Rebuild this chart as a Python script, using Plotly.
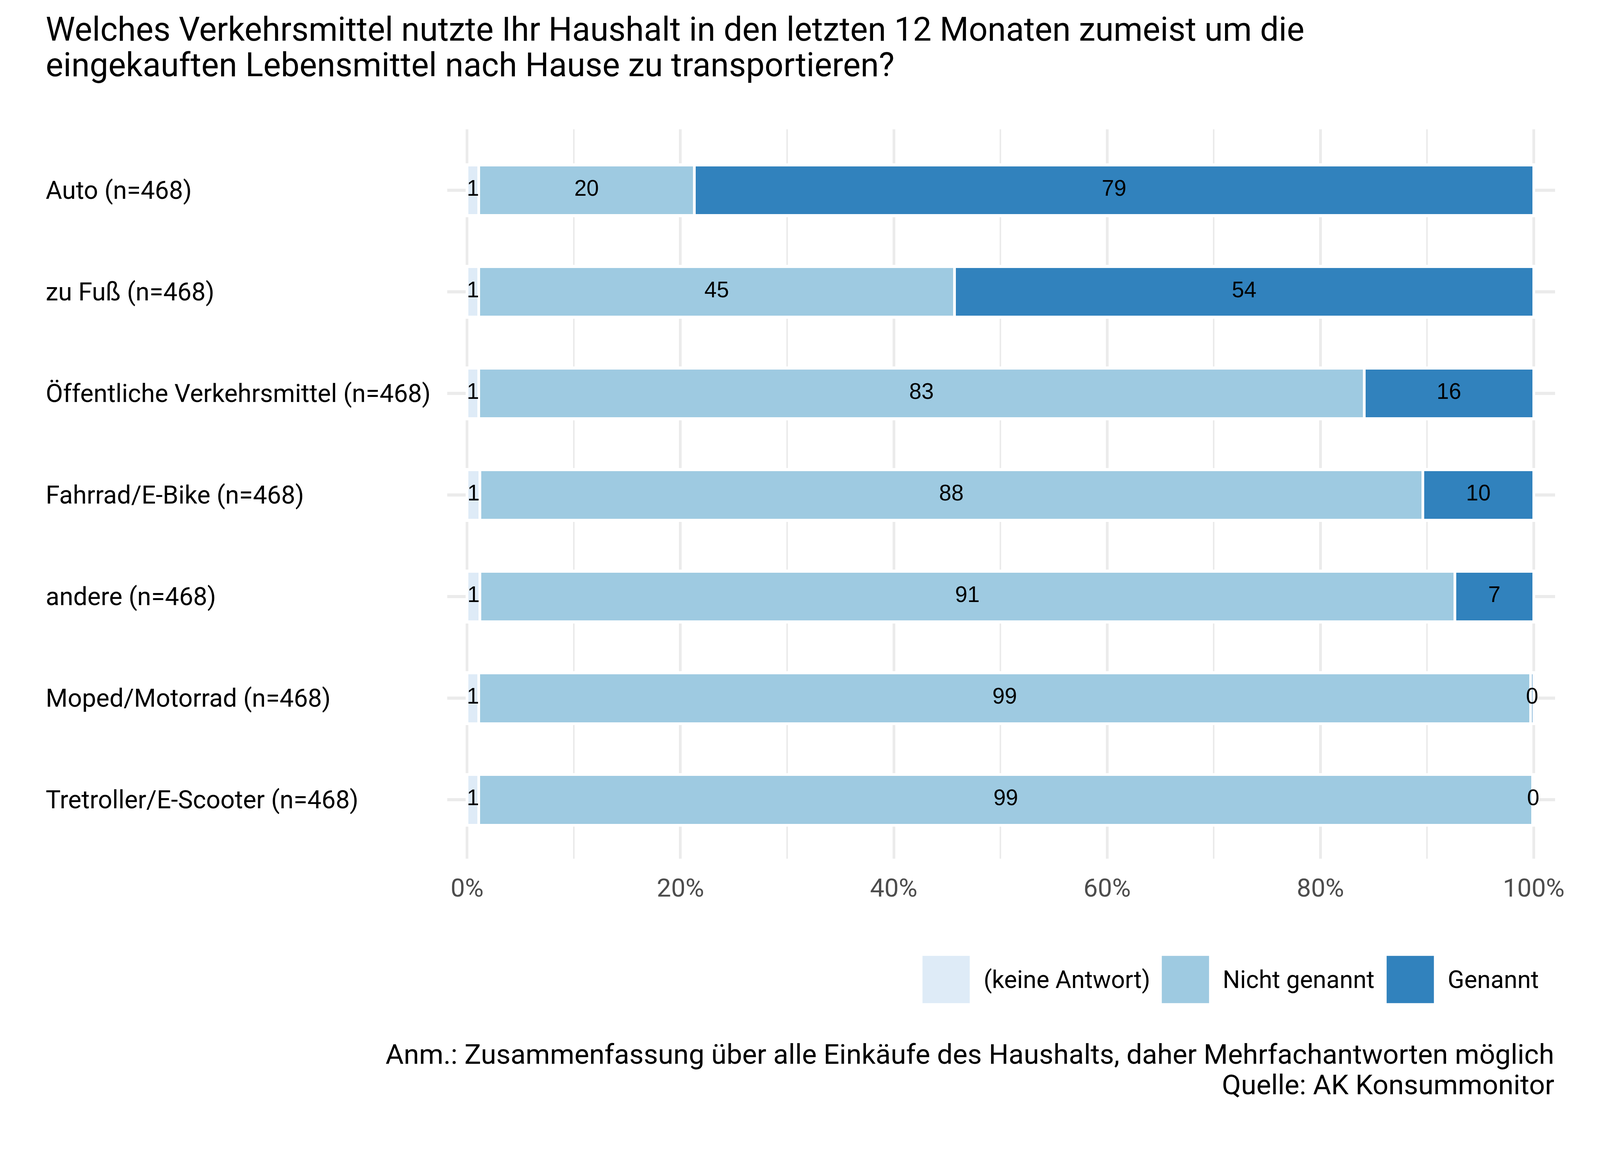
import numpy as np
import plotly.graph_objects as go

# data (percent of households, n=468 each)
categories = [
    "Auto (n=468)",
    "zu Fuß (n=468)",
    "Öffentliche Verkehrsmittel (n=468)",
    "Fahrrad/E-Bike (n=468)",
    "andere (n=468)",
    "Moped/Motorrad (n=468)",
    "Tretroller/E-Scooter (n=468)",
]
keine_antwort = [1.1, 1.1, 1.1, 1.2, 1.2, 1.1, 1.1]
nicht_genannt = [20.2, 44.6, 83.0, 88.4, 91.4, 98.6, 98.8]
genannt = [78.7, 54.3, 15.9, 10.4, 7.4, 0.3, 0.1]

series_names = ["(keine Antwort)", "Nicht genannt", "Genannt"]
series_colors = ["#DEEBF7", "#9ECAE1", "#3182BD"]
x_ticks = [0, 20, 40, 60, 80, 100]
x_ticktext = ["0%", "20%", "40%", "60%", "80%", "100%"]

title_lines = [
    "Welches Verkehrsmittel nutzte Ihr Haushalt in den letzten 12 Monaten zumeist um die",
    "eingekauften Lebensmittel nach Hause zu transportieren?",
]
caption_lines = [
    "Anm.: Zusammenfassung über alle Einkäufe des Haushalts, daher Mehrfachantworten möglich",
    "Quelle: AK Konsummonitor",
]

# the screenshot comes out ~2.5% larger than the page and the page has an 8px body margin,
# so layout pixels are given in screenshot units and converted here
K = 1.025


def pg(v):
    return v / K - 8


def sz(v):
    return v / K


W_FIG, H_FIG = round(4200 / K - 8), round(3000 / K - 8)
L, R, T, B = 1174, 4081, 339, 2253  # plot area in screenshot pixels


def px_x(x):
    return (x - L) / (R - L)


def px_y(y):
    return (B - y) / (B - T)


FONT = "Roboto"
series = [keine_antwort, nicht_genannt, genannt]

fig = go.Figure()

for name, vals, color in zip(series_names, series, series_colors):
    fig.add_trace(go.Bar(
        y=categories, x=vals, name=name,
        orientation="h", width=0.5,
        marker=dict(color=color, line=dict(color="white", width=sz(7.5))),
        showlegend=False, hoverinfo="skip",
    ))

# segment labels at the middle of each stacked segment
stack = np.array(series)
ends = stack.cumsum(axis=0)
mids = ends - stack / 2
for i in range(len(series)):
    fig.add_trace(go.Scatter(
        y=categories, x=mids[i], mode="text",
        text=[f"{round(v)}" for v in stack[i]],
        textfont=dict(family="Liberation Sans", size=sz(58), color="black"),
        showlegend=False, hoverinfo="skip", cliponaxis=False,
    ))

annotations = []

# left-aligned category labels
for c in categories:
    annotations.append(dict(
        xref="paper", yref="y", x=px_x(118), y=c, text=c,
        xanchor="left", yanchor="middle", showarrow=False,
        font=dict(family=FONT, size=sz(66), color="black"),
    ))

# title, one annotation per line to keep the tight line spacing
for i, line in enumerate(title_lines):
    annotations.append(dict(
        xref="paper", yref="paper", x=px_x(118), y=px_y(77 + i * 93), text=line,
        xanchor="left", yanchor="middle", showarrow=False,
        font=dict(family=FONT, size=sz(87), color="black"),
    ))

# caption
for i, line in enumerate(caption_lines):
    annotations.append(dict(
        xref="paper", yref="paper", x=1.0, y=px_y(2766 + i * 80), text=line,
        xanchor="right", yanchor="middle", showarrow=False,
        font=dict(family=FONT, size=sz(73), color="black"),
    ))

# legend drawn by hand (big square keys like ggplot)
shapes = []
key_x = [2421, 3049, 3639]
for name, color, kx in zip(series_names, series_colors, key_x):
    shapes.append(dict(
        type="rect", xref="paper", yref="paper",
        x0=px_x(kx), x1=px_x(kx + 124), y0=px_y(2632), y1=px_y(2508),
        fillcolor=color, line=dict(width=0),
    ))
    annotations.append(dict(
        xref="paper", yref="paper", x=px_x(kx + 158), y=px_y(2570), text=name,
        xanchor="left", yanchor="middle", showarrow=False,
        font=dict(family=FONT, size=sz(64), color="black"),
    ))

fig.update_layout(
    barmode="stack",
    width=W_FIG, height=H_FIG, autosize=False,
    margin=dict(l=pg(L), r=W_FIG - pg(R), t=pg(T), b=H_FIG - pg(B), pad=0),
    plot_bgcolor="white", paper_bgcolor="white",
    font=dict(family=FONT, color="black"),
    annotations=annotations, shapes=shapes,
    showlegend=False,
    xaxis=dict(
        range=[-1.86, 102.0], tickmode="array",
        tickvals=x_ticks, ticktext=x_ticktext,
        showgrid=True, gridcolor="#EBEBEB", gridwidth=sz(7.5),
        minor=dict(dtick=10, tick0=0, showgrid=True, gridcolor="#EBEBEB", gridwidth=sz(3.8)),
        zeroline=False, showline=False, ticks="",
        tickfont=dict(family=FONT, size=sz(67), color="#4D4D4D"),
        ticklabelstandoff=round(sz(32)), automargin=False,
    ),
    yaxis=dict(
        type="category", categoryorder="array", categoryarray=categories,
        range=[6.58, -0.6],
        showgrid=True, gridcolor="#EBEBEB", gridwidth=sz(8),
        zeroline=False, showline=False, ticks="", showticklabels=False,
        automargin=False,
    ),
)

fig.write_html("out.html")
